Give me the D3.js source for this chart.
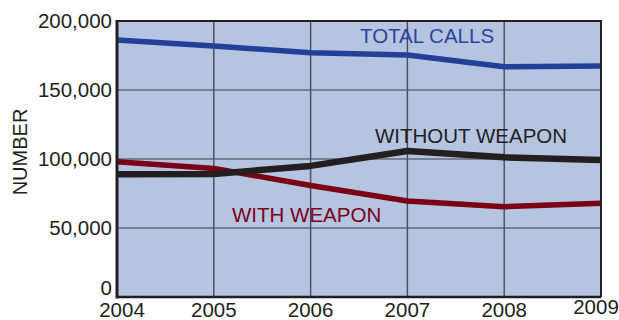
<!DOCTYPE html>
<html><head><meta charset="utf-8">
<script src="https://cdn.jsdelivr.net/npm/d3@7"></script>
<style>body{margin:0;background:#fff}svg{display:block;font-family:"Liberation Sans",Arial,sans-serif}</style>
</head><body><svg id="c" width="619" height="320"></svg>
<script>
const years = [2004, 2005, 2006, 2007, 2008, 2009];
const totalCalls = [186200, 181800, 177000, 175400, 166900, 167400];
const withoutWeapon = [89000, 89200, 95000, 105800, 101200, 99300];
const withWeapon = [98000, 93200, 80800, 69600, 65400, 67900];
const yTicks = [0, 50000, 100000, 150000, 200000];
const seriesNames = ["TOTAL CALLS", "WITHOUT WEAPON", "WITH WEAPON"];

const svg = d3.select("#c");
const m = {l:117, r:601, t:21, b:297};
const x = d3.scaleLinear().domain([2004, 2009]).range([m.l, m.r]);
const y = d3.scaleLinear().domain([0, 200000]).range([m.b, m.t]);

svg.append("rect").attr("x", m.l).attr("y", m.t).attr("width", m.r-m.l).attr("height", m.b-m.t).attr("fill", "#b5c4e1");

const g = svg.append("g");
g.selectAll(".hg").data(yTicks.slice(1,4)).join("line")
  .attr("x1", m.l).attr("x2", m.r).attr("y1", d=>y(d)).attr("y2", d=>y(d))
  .attr("stroke", "#676a7a").attr("stroke-width", 1.6);
g.selectAll(".vg").data(years.slice(1,5)).join("line")
  .attr("y1", m.t).attr("y2", m.b).attr("x1", d=>x(d)).attr("x2", d=>x(d))
  .attr("stroke", "#4a4b58").attr("stroke-width", 1.4);

const line = vals => d3.line().x((d,i)=>x(years[i])).y(d=>y(d))(vals);
const series = [
  {v: totalCalls, c: "#233f98", w: 5.5},
  {v: withoutWeapon, c: "#231f20", w: 6.5},
  {v: withWeapon, c: "#7b0016", w: 5.5}
];
[series[2], series[1], series[0]].forEach(s => {
  svg.append("path").attr("d", line(s.v)).attr("fill", "none").attr("stroke", s.c).attr("stroke-width", s.w).attr("stroke-linejoin", "round");
});

svg.append("path").attr("d", `M${m.l},${m.t}H${m.r}V${m.b}`).attr("fill","none").attr("stroke","#231f20").attr("stroke-width",2);
svg.append("line").attr("x1",m.l).attr("x2",m.r).attr("y1",m.b).attr("y2",m.b).attr("stroke","#231f20").attr("stroke-width",2.5);
svg.append("line").attr("x1",m.l).attr("x2",m.l).attr("y1",m.t-1).attr("y2",m.b+1.5).attr("stroke","#231f20").attr("stroke-width",3);

const fmt = d3.format(",");
svg.selectAll(".yl").data(yTicks).join("text")
  .attr("x", m.l-5).attr("y", d=> d===0 ? y(d)-2 : y(d)).attr("dy", d=> d===0 ? "0em" : "0.36em")
  .attr("text-anchor", "end").attr("font-size", 20.5).attr("fill", "#231f20")
  .text(d=>fmt(d));
svg.selectAll(".xl").data(years).join("text")
  .attr("x", (d,i)=>x(d) + (i===0?5:(i===years.length-1?-5:0)))
  .attr("y", (d,i)=> i===years.length-1 ? 314 : 316.5)
  .attr("text-anchor", "middle").attr("font-size", 20.5).attr("fill", "#231f20")
  .text(d=>d);

svg.append("text").attr("transform","translate(27,152) rotate(-90)")
  .attr("text-anchor","middle").attr("font-size",20).attr("fill","#231f20").text("NUMBER");

svg.append("text").attr("x",360).attr("y",43).attr("font-size",20.5).attr("fill","#2a4597").text(seriesNames[0]);
svg.append("text").attr("x",375).attr("y",143).attr("font-size",20.5).attr("fill","#231f20").text(seriesNames[1]);
svg.append("text").attr("x",232).attr("y",222).attr("font-size",20.5).attr("fill","#7b0016").text(seriesNames[2]);
</script></body></html>
